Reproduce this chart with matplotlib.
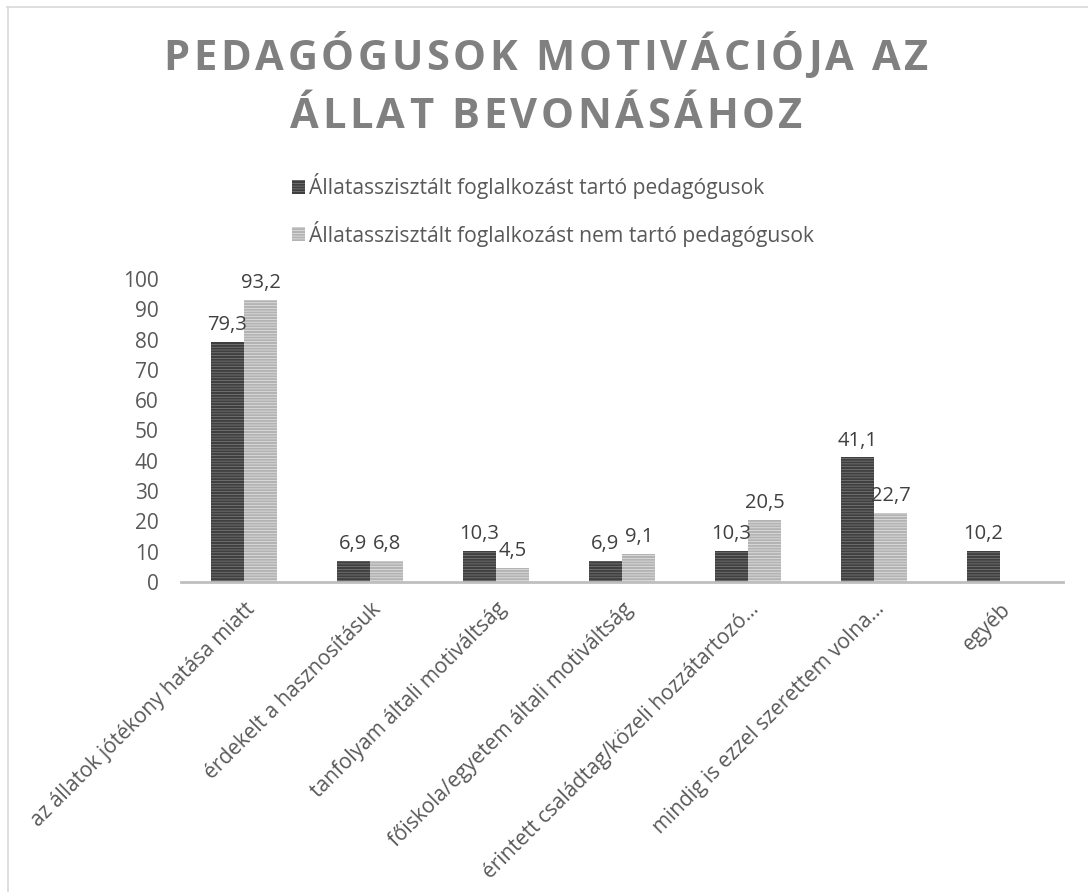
import numpy as np
import matplotlib
matplotlib.use("Agg")
import matplotlib.pyplot as plt
from matplotlib.lines import Line2D

categories = [
    "az állatok jótékony hatása miatt",
    "érdekelt a hasznosításuk",
    "tanfolyam általi motiváltság",
    "főiskola/egyetem általi motiváltság",
    "érintett családtag/közeli hozzátartozó…",
    "mindig is ezzel szerettem volna…",
    "egyéb",
]
series_names = [
    "Állatasszisztált foglalkozást tartó pedagógusok",
    "Állatasszisztált foglalkozást nem tartó pedagógusok",
]
tarto = [79.3, 6.9, 10.3, 6.9, 10.3, 41.1, 10.2]
nem_tarto = [93.2, 6.8, 4.5, 9.1, 20.5, 22.7, np.nan]
yticks = list(range(0, 101, 10))
title_lines = ["PEDAGÓGUSOK MOTIVÁCIÓJA AZ", "ÁLLAT BEVONÁSÁHOZ"]

plt.rcParams['font.family'] = ['Open Sans', 'DejaVu Sans']
plt.rcParams['hatch.linewidth'] = 1.5

W, H = 1088, 892
fig = plt.figure(figsize=(W / 100, H / 100), dpi=100)
# outer frame (top and left edges visible)
fig.add_artist(Line2D([7 / W, 1.0], [1 - 6.5 / H] * 2, transform=fig.transFigure,
                      color='#d9d9d9', linewidth=1.2))
fig.add_artist(Line2D([7.5 / W] * 2, [0, 1 - 6.5 / H], transform=fig.transFigure,
                      color='#d9d9d9', linewidth=1.2))

ax = fig.add_axes([181 / W, 1 - 582 / H, (1063 - 181) / W, (582 - 279) / H])

x = np.arange(len(categories))
w = 0.265
b1 = ax.bar(x - w/2, tarto, w, facecolor='#7f7f7f', edgecolor='#3f3f3f', hatch='------',
            linewidth=0, label=series_names[0])
b2 = ax.bar(x + w/2, nem_tarto, w, facecolor='#e6e6e6', edgecolor='#b3b3b3', hatch='------',
            linewidth=0, label=series_names[1])

def fmt(v):
    return ("%.1f" % v).replace('.', ',')

for bars, vals in ((b1, tarto), (b2, nem_tarto)):
    for rect, v in zip(bars, vals):
        if np.isnan(v):
            continue
        ax.annotate(fmt(v), (rect.get_x() + rect.get_width()/2, v), xytext=(0, 5),
                    textcoords='offset points', ha='center', va='bottom',
                    fontsize=14.5, color='#404040')

ax.set_xlim(-0.5, len(categories) - 0.5)
ax.set_ylim(0, 100)
ax.set_yticks(yticks)
ax.set_yticklabels([str(t) for t in yticks], fontsize=15, color='#595959')
ax.tick_params(axis='y', length=0, pad=16)
ax.tick_params(axis='x', length=0, pad=12)
ax.set_xticks(x)
ax.set_xticklabels(categories, rotation=45, ha='right', rotation_mode='anchor',
                   fontsize=15, color='#595959')
for s in ('top', 'right', 'left'):
    ax.spines[s].set_visible(False)
ax.spines['bottom'].set_color('#bfbfbf')
ax.spines['bottom'].set_linewidth(2)

# title with letter spacing, drawn character by character
renderer = fig.canvas.get_renderer()
tprops = dict(fontsize=30, fontweight='bold', color='#808080')
target_w = 765.0
line_y = [59, 117]
def char_widths(s):
    ws = []
    for ch in s:
        t = fig.text(0, 0, ch, **tprops)
        bb = t.get_window_extent(renderer)
        ws.append(bb.width)
        t.remove()
    return ws
ws0 = char_widths(title_lines[0])
spacing = (target_w - sum(ws0)) / (len(ws0) - 1)
for line, yy in zip(title_lines, line_y):
    ws = char_widths(line)
    total = sum(ws) + spacing * (len(ws) - 1)
    xpos = 546 - total / 2
    for ch, cw in zip(line, ws):
        fig.text(xpos / W, 1 - yy / H, ch, ha='left', va='center', **tprops)
        xpos += cw + spacing

leg = fig.legend(handles=[b1, b2], loc='center left', bbox_to_anchor=(273 / W, 1 - 210 / H),
                 frameon=False, fontsize=15.2, labelcolor='#595959', handlelength=0.6,
                 handleheight=0.6, handletextpad=0.2, labelspacing=1.0)

fig.savefig("out.png", dpi=100)
